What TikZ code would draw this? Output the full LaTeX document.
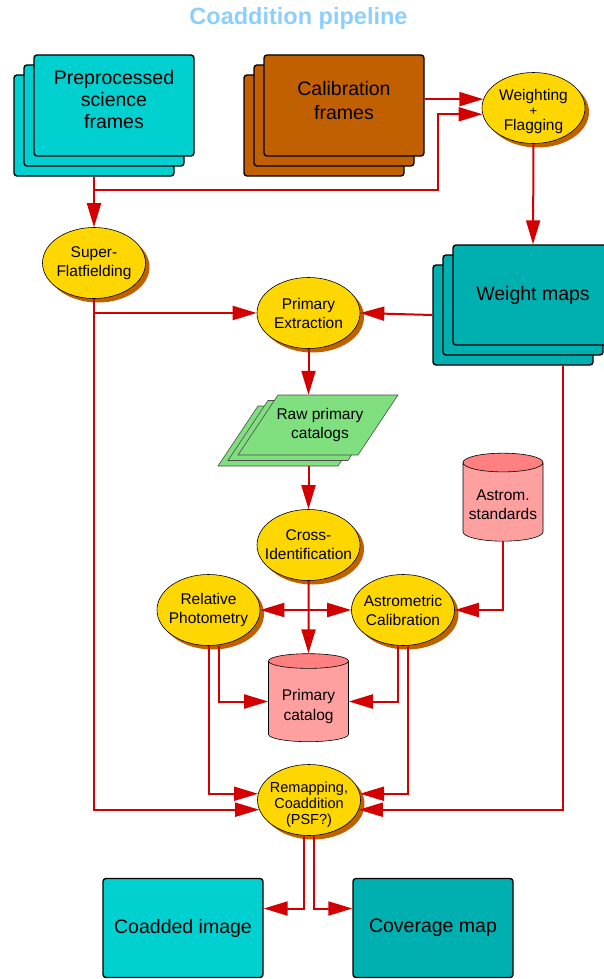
\documentclass[tikz,border=0pt]{standalone}
\usepackage{fontspec}
\setmainfont{Liberation Sans}
\usepackage{xcolor}
\usetikzlibrary{arrows.meta,shapes.geometric,shadows}

\definecolor{titleblue}{RGB}{140,206,255}
\definecolor{cyanbox}{RGB}{0,208,208}
\definecolor{tealbox}{RGB}{0,176,176}
\definecolor{calbrown}{RGB}{192,96,0}
\definecolor{procgold}{RGB}{255,215,0}
\definecolor{catgreen}{RGB}{128,224,128}
\definecolor{dbpink}{RGB}{255,160,160}
\definecolor{dbcap}{RGB}{255,128,128}
\definecolor{flowred}{RGB}{210,0,0}

\begin{document}
\begin{tikzpicture}[x=1pt,y=-1pt]
    \tikzstyle{framebox}=[rectangle,rounded corners=3pt,draw=black,line width=1.4pt,minimum width=160pt,minimum height=101pt,inner sep=0pt,align=center,font=\fontsize{19.5}{22}\selectfont]
    \tikzstyle{boxtext}=[inner sep=0pt,align=center]
    \tikzstyle{proc}=[ellipse,draw=black,line width=0.6pt,fill=procgold,minimum width=103pt,minimum height=71pt,inner xsep=-10pt,inner ysep=-4pt,align=center,font=\fontsize{15.5}{19}\selectfont,drop shadow={shadow xshift=4pt,shadow yshift=-4pt,fill=calbrown,opacity=1}]
    \tikzstyle{rawcat}=[draw=black!70,line width=0.6pt,fill=catgreen]
    \tikzstyle{store}=[cylinder,shape border rotate=90,aspect=0.275,draw=black,line width=0.6pt,cylinder uses custom fill,cylinder body fill=dbpink,cylinder end fill=dbcap,minimum width=80pt,minimum height=88pt,inner sep=0pt,align=center,font=\fontsize{15.5}{19.5}\selectfont]
    \tikzstyle{flow}=[draw=flowred,line width=2pt,-{Triangle[length=24pt,width=14pt]}]

    \useasboundingbox (0,0) rectangle (604,979);

    % Title
    \node [text=titleblue,font=\fontsize{23.5}{27}\selectfont\bfseries] (title) at (298.5,18) {Coaddition pipeline};

    % Input frames
    \node [framebox,fill=cyanbox] (pre3) at (94,125.5) {};
    \node [framebox,fill=cyanbox] (pre2) at (104,115.5) {};
    \node [framebox,fill=cyanbox] (pre) at (114,105.5) {};
    \node [boxtext,font=\fontsize{19.5}{22}\selectfont] (pretext) at (114,100) {Preprocessed\\science\\frames};

    \node [framebox,fill=calbrown] (calib3) at (324,125.5) {};
    \node [framebox,fill=calbrown] (calib2) at (334,115.5) {};
    \node [framebox,fill=calbrown] (calib) at (344,105.5) {};
    \node [boxtext,font=\fontsize{19.5}{24}\selectfont] (calibtext) at (344,100.5) {Calibration\\frames};

    \node [proc,font=\fontsize{15.5}{15}\selectfont] (wf) at (533.5,108) {\rule{0pt}{19pt}Weighting\\{\fontsize{13}{15}\selectfont +}\\Flagging};
    \node [proc] (sflat) at (94,263) {Super-\\Flatfielding};

    % Weight maps
    \node [framebox,fill=tealbox,minimum height=100pt] (wm3) at (513,315) {};
    \node [framebox,fill=tealbox,minimum height=100pt] (wm2) at (523,305) {};
    \node [framebox,fill=tealbox,minimum height=100pt] (wm) at (533,295) {Weight maps};

    \node [proc] (pe) at (308.5,313) {Primary\\Extraction};

    % Catalogs
    \draw [rawcat] (258,406) -- ++(120,0) -- ++(-40,60) -- ++(-120,0) -- cycle;
    \draw [rawcat] (268,400.5) -- ++(120,0) -- ++(-40,60) -- ++(-120,0) -- cycle;
    \draw [rawcat] (278,395) -- ++(120,0) -- ++(-40,60) -- ++(-120,0) -- cycle;
    \node [minimum height=60pt,inner sep=0pt,align=center,font=\fontsize{15.5}{19}\selectfont] (raw) at (320,425) {Raw primary\\catalogs};
    \coordinate (rawb) at (308.5,466);

    \node [proc] (cid) at (308.5,545) {Cross-\\Identification};
    \node [proc] (rp) at (208.5,610) {Relative\\Photometry};
    \node [proc] (ac) at (403,610) {Astrometric\\Calibration};
    \node [store] (astd) at (503,502) {\rule{0pt}{16pt}Astrom.\\standards};
    \node [store] (pcat) at (308.5,701.5) {\rule{0pt}{21pt}Primary\\catalog};

    \node [proc,font=\fontsize{14.5}{16}\selectfont] (remap) at (309,800) {\rule{0pt}{19.5pt}Remapping,\\Coaddition\\(PSF?)};

    % Products
    \node [framebox,fill=cyanbox,minimum height=99pt] (coad) at (183,928) {Coadded image};
    \node [framebox,fill=tealbox,minimum height=99pt] (cov) at (433,928) {Coverage map};

    % Connectors
    \coordinate (j1) at (438,190);
    \draw [flow] (calib.east |- wf.170) -- (wf.170);
    \draw [flow] (pre3.south |- j1) -- (j1) |- (wf.187);
    \draw [flow] (pre3.south) -- (sflat.north);
    \draw [flow] (wf.south) -- (wm.north);
    \draw [flow] (sflat.south |- pe.west) -- (pe.west);
    \draw [flow] (wm3.west) -- (pe.east);
    \draw [flow] (sflat.south) |- (remap.191);
    \draw [flow] ([xshift=50pt]wm3.south) |- (remap.349);
    \draw [flow] (pe.south) -- (pe.south |- raw.north);
    \draw [flow] (rawb) -- (cid.north);
    \draw [flow] (cid.south) -- (pcat.north);
    \draw [flow] (cid.south |- rp.east) -- (rp.east);
    \draw [flow] (cid.south |- ac.west) -- (ac.west);
    \draw [flow] (astd.south) |- (ac.east);
    \draw [flow] ([xshift=10pt]rp.south) |- (pcat.west);
    \draw [flow] ([xshift=-5pt]ac.south) |- (pcat.east);
    \draw [flow] (rp.south) |- (remap.173);
    \draw [flow] ([xshift=5pt]ac.south) |- (remap.7);
    \draw [flow] ([xshift=-5pt]remap.south) |- ([yshift=19.5pt]coad.east);
    \draw [flow] ([xshift=5pt]remap.south) |- ([yshift=19.5pt]cov.west);
\end{tikzpicture}
\end{document}
